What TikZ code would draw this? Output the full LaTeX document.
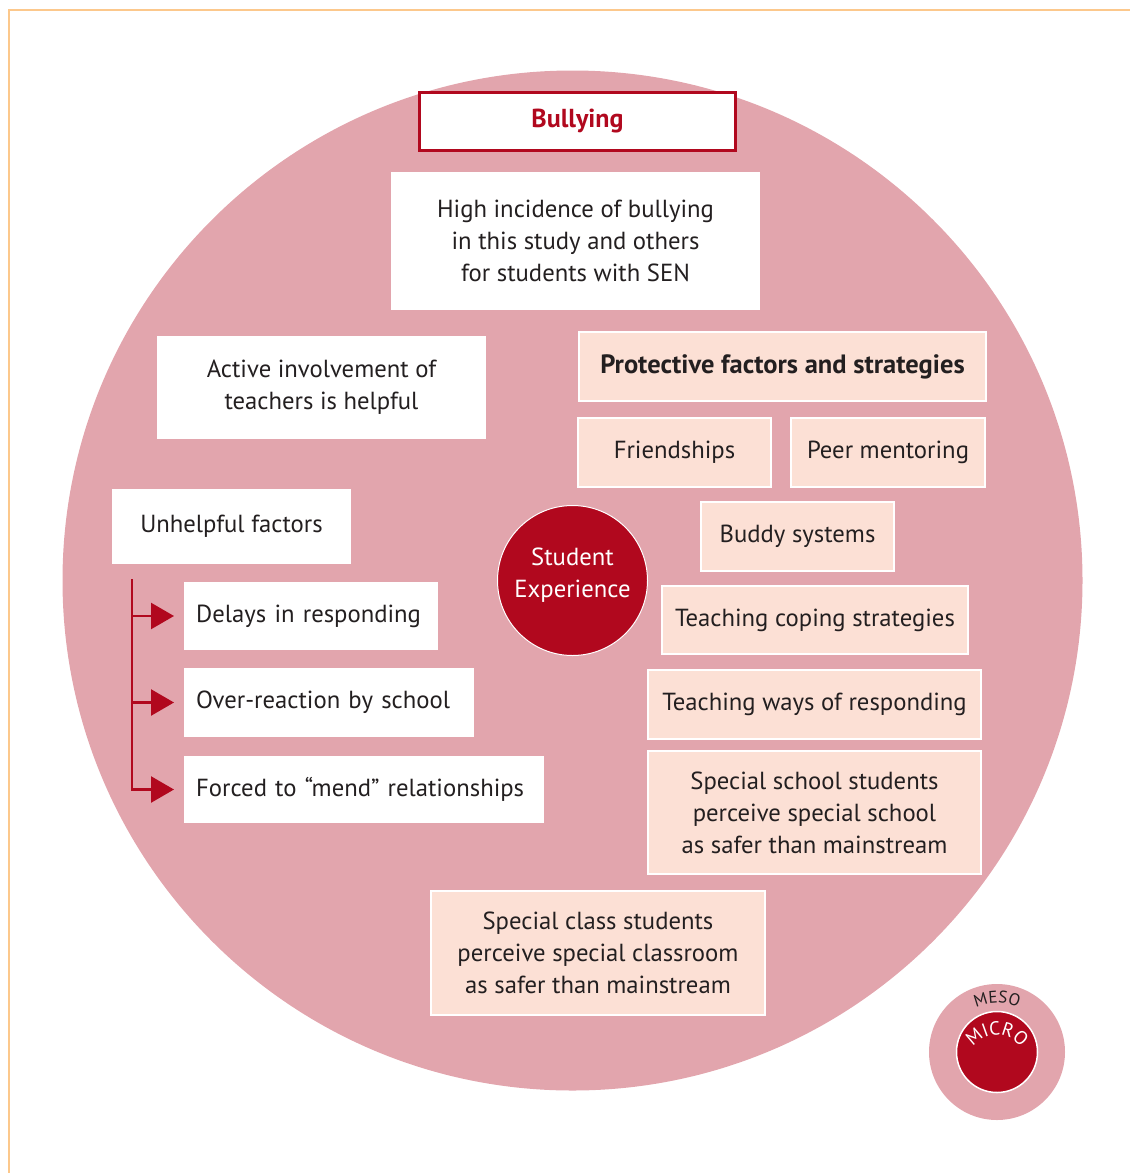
\documentclass[tikz,border=0pt]{standalone}
\usepackage{fontspec}
\setmainfont{PT Sans}
\usetikzlibrary{positioning,arrows.meta,decorations.text}
\definecolor{ringcolor}{RGB}{226,165,173}
\definecolor{corecolor}{RGB}{177,8,30}
\definecolor{peachcolor}{RGB}{252,224,213}
\definecolor{framecolor}{RGB}{252,200,140}
\definecolor{inkcolor}{RGB}{35,31,32}

\begin{document}
\begin{tikzpicture}[
    x=1pt, y=-1pt,
    every node/.style={font=\fontsize{24.7}{32}\selectfont, text=inkcolor},
    headbox/.style={rectangle, fill=white, draw=corecolor, line width=3pt, text=corecolor, font=\fontsize{26}{32}\selectfont\bfseries, align=center},
    plain/.style={rectangle, fill=white, align=center, inner sep=0pt},
    leftbox/.style={rectangle, fill=white, align=left, anchor=west, inner xsep=12pt, inner ysep=0pt},
    peachbox/.style={rectangle, fill=peachcolor, draw=white, line width=2pt, align=center, inner sep=0pt},
    core/.style={circle, fill=corecolor, draw=white, line width=1pt, inner sep=0pt},
    arrow/.style={-{Triangle[length=23pt,width=26pt]}, line width=2.5pt, corecolor, shorten >=10pt}
]
\useasboundingbox (0,0) rectangle (1130,1173);

% Frame
\draw[framecolor, line width=2pt] (8.5,1173) -- (8.5,9.5) -- (1130,9.5);

% Meso ring and core
\node[circle, fill=ringcolor, minimum size=1020pt, inner sep=0pt] (meso) at (572.5,580.5) {};
\node[core, minimum size=150pt, label={[text=white, align=center, yshift=5pt]center:Student\\Experience}] (student) at (572.5,580.5) {};

% Top
\node[headbox, minimum width=316pt, minimum height=58pt] (bullying) at (577.5,121.5) {Bullying};
\node[plain, minimum width=369pt, minimum height=138pt] (incidence) at (575.5,241) {High incidence of bullying\\in this study and others\\for students with SEN};

% Left side
\node[plain, minimum width=329pt, minimum height=103pt] (teachers) at (321.5,387.5) {Active involvement of\\teachers is helpful};
\node[plain, minimum width=239pt, minimum height=75pt] (unhelpful) at (231.5,526.5) {Unhelpful factors};
\node[leftbox, text width=230pt, minimum height=68pt] (delays) at (184,616) {Delays in responding};
\node[leftbox, text width=266pt, minimum height=69pt] (overreaction) at (184,702.5) {Over-reaction by school};
\node[leftbox, text width=336pt, minimum height=67pt] (mend) at (184,789.5) {Forced to “mend” relationships};

% Right side
\node[peachbox, minimum width=407pt, minimum height=69pt, font=\fontsize{26.5}{32}\selectfont\bfseries] (protective) at (782.5,366.5) {Protective factors and strategies};
\node[peachbox, minimum width=193pt, minimum height=69pt] (friends) at (674.5,452.5) {Friendships};
\node[peachbox, minimum width=194pt, minimum height=69pt] (peers) at (888,452.5) {Peer mentoring};
\node[peachbox, minimum width=193pt, minimum height=69pt] (buddy) at (797.5,536.5) {Buddy systems};
\node[peachbox, minimum width=306pt, minimum height=68pt] (coping) at (815,620) {Teaching coping strategies};
\node[peachbox, minimum width=333pt, minimum height=69pt] (responding) at (814.5,704.5) {Teaching ways of responding};
\node[peachbox, minimum width=333pt, minimum height=123pt] (specschool) at (814.5,812.5) {Special school students\\perceive special school\\as safer than mainstream};
\node[peachbox, minimum width=334pt, minimum height=124pt] (specclass) at (598,953) {Special class students\\perceive special classroom\\as safer than mainstream};

% Arrows
\coordinate (branch) at (132,579);
\draw[arrow] (branch) |- (delays.west);
\draw[arrow] (branch) |- (overreaction.west);
\draw[arrow] (branch) |- (mend.west);

% Badge
\node[circle, fill=ringcolor, minimum size=136pt, inner sep=0pt] (mesobadge) at (997,1052) {};
\node[circle, fill=corecolor, draw=white, line width=1.5pt, minimum size=81pt, inner sep=0pt] (microbadge) at (997,1052) {};
\begin{scope}[shift={(997,1052)}, y=1pt]
  \path[decorate, decoration={text along path, text align=center,
    text={|\fontsize{17}{18}\selectfont\color{inkcolor}|MESO}}]
    (160:49) arc[start angle=160, end angle=20, radius=49];
\end{scope}
\begin{scope}[shift={(997,1064)}, y=1pt]
  \path[decorate, decoration={text along path, text align=center,
    text={|\fontsize{19}{20}\selectfont\color{white}|MICRO}}]
    (165:29) arc[start angle=165, end angle=15, radius=29];
\end{scope}

\end{tikzpicture}
\end{document}
